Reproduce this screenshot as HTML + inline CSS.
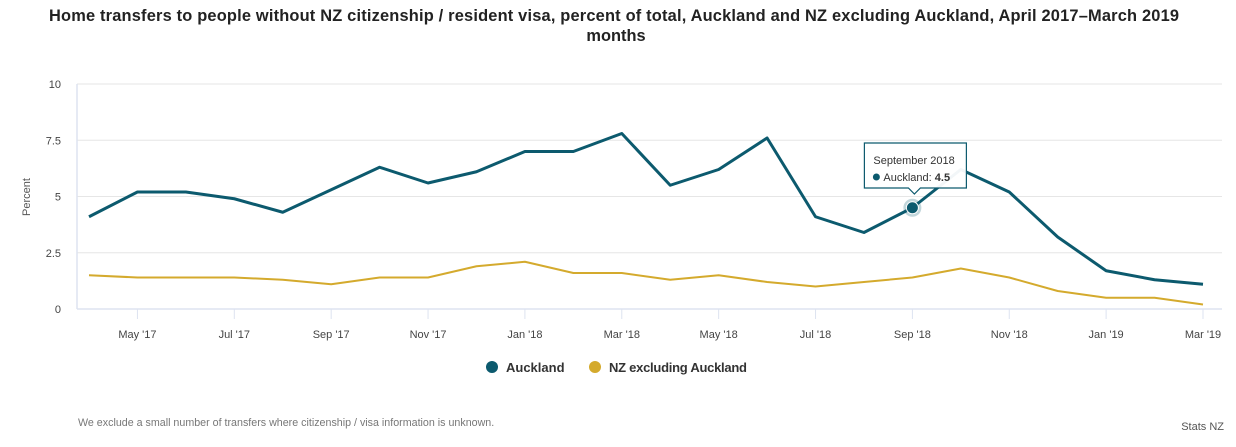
<!DOCTYPE html>
<html><head><meta charset="utf-8"><style>
body{margin:0;background:#fff;font-family:"Liberation Sans",sans-serif;}
svg text{font-family:"Liberation Sans",sans-serif;}
</style></head><body>
<svg width="1236" height="442" xmlns="http://www.w3.org/2000/svg">
<text x="614" y="21" text-anchor="middle" font-size="16.4" font-weight="bold" fill="#222" textLength="1130">Home transfers to people without NZ citizenship / resident visa, percent of total, Auckland and NZ excluding Auckland, April 2017–March 2019</text>
<text x="616" y="41" text-anchor="middle" font-size="16.4" font-weight="bold" fill="#222">months</text>
<g id="grid"></g>
<g id="axes"></g>
<g id="series"></g>
<g id="tip"></g>
<text transform="translate(30,197) rotate(-90)" text-anchor="middle" font-size="11" fill="#555">Percent</text>
<g><circle cx="492" cy="367" r="6" fill="#0c5a6e"/><text x="506" y="372" font-size="13" font-weight="bold" fill="#333">Auckland</text></g>
<g><circle cx="595" cy="367" r="6" fill="#d4aa2d"/><text x="609" y="372" font-size="13" font-weight="bold" fill="#333" textLength="138">NZ excluding Auckland</text></g>
<text x="78" y="426" font-size="10.7" fill="#777">We exclude a small number of transfers where citizenship / visa information is unknown.</text>
<text x="1224" y="430" text-anchor="end" font-size="11" fill="#555">Stats NZ</text>
</svg>
<script>
const months=["Apr '17","May '17","Jun '17","Jul '17","Aug '17","Sep '17","Oct '17","Nov '17","Dec '17","Jan '18","Feb '18","Mar '18","Apr '18","May '18","Jun '18","Jul '18","Aug '18","Sep '18","Oct '18","Nov '18","Dec '18","Jan '19","Feb '19","Mar '19"];
const auckland=[4.1,5.2,5.2,4.9,4.3,5.3,6.3,5.6,6.1,7.0,7.0,7.8,5.5,6.2,7.6,4.1,3.4,4.5,6.2,5.2,3.2,1.7,1.3,1.1];
const nzExAuckland=[1.5,1.4,1.4,1.4,1.3,1.1,1.4,1.4,1.9,2.1,1.6,1.6,1.3,1.5,1.2,1.0,1.2,1.4,1.8,1.4,0.8,0.5,0.5,0.2];
const yTicks=[0,2.5,5,7.5,10];
const yTickLabels=["0","2.5","5","7.5","10"];
const NS="http://www.w3.org/2000/svg";
const x0=89,x1=1203,L=77,R=1222,yb=309,yt=84;
const X=i=>x0+(x1-x0)*i/(months.length-1);
const Y=v=>yb-(yb-yt)*v/10;
function mk(t,a,p){const e=document.createElementNS(NS,t);for(const k in a)e.setAttribute(k,a[k]);p.appendChild(e);return e;}
const grid=document.getElementById('grid'),axes=document.getElementById('axes'),ser=document.getElementById('series'),tip=document.getElementById('tip');
yTicks.forEach((v,i)=>{
 const l=mk('line',{x1:L,x2:R,y1:Y(v),y2:Y(v),stroke:'#e6e6e6'},grid);
 
 
 const t=mk('text',{x:61,y:Y(v)+4,'text-anchor':'end','font-size':11,fill:'#444'},axes);t.textContent=yTickLabels[i];
 
 
});
const ax=mk('line',{x1:L,x2:L,y1:yt,y2:yb,stroke:'#dde3f0','stroke-width':1.5},axes);


const bx=mk('line',{x1:L,x2:R,y1:yb,y2:yb,stroke:'#dde3f0','stroke-width':1.5},axes);


months.forEach((m,i)=>{if(i%2==1){
 const tk=mk('line',{x1:X(i),x2:X(i),y1:yb,y2:yb+10,stroke:'#dde3f0'},axes);
 
 
 const t=mk('text',{x:X(i),y:338,'text-anchor':'middle','font-size':11,fill:'#444'},axes);t.textContent=m;
 
 
}});
function line(d,c,w,n){const p=mk('polyline',{points:d.map((v,i)=>X(i)+','+Y(v)).join(' '),fill:'none',stroke:c,'stroke-width':w,'stroke-linejoin':'round'},ser);
 
 }
line(nzExAuckland,'#d4aa2d',2,'nz-excluding-auckland-line');
line(auckland,'#0c5a6e',3,'auckland-line');
const hi=17,hx=X(hi),hy=Y(auckland[hi]);
mk('circle',{cx:hx,cy:hy,r:9,fill:'#0c5a6e','fill-opacity':0.25},tip);
const dot=mk('circle',{cx:hx,cy:hy,r:6,fill:'#0c5a6e',stroke:'#fff','stroke-width':1},tip);


const bxl=hx-48,byt=143;
const box=mk('path',{d:`M${bxl} ${byt} h102 v45 h-46 l-6 6 l-6 -6 h-44 z`,fill:'#fff',stroke:'#0c5a6e','stroke-width':1.2,'fill-opacity':0.95},tip);


const t1=mk('text',{x:bxl+9,y:byt+21,'font-size':11,fill:'#333'},tip);t1.textContent='September 2018';
mk('circle',{cx:bxl+12,cy:byt+34,r:3.5,fill:'#0c5a6e'},tip);
const t2=mk('text',{x:bxl+19,y:byt+38,'font-size':11,fill:'#333'},tip);t2.innerHTML='Auckland: <tspan font-weight="bold">'+auckland[hi]+'</tspan>';
</script>
</body></html>
